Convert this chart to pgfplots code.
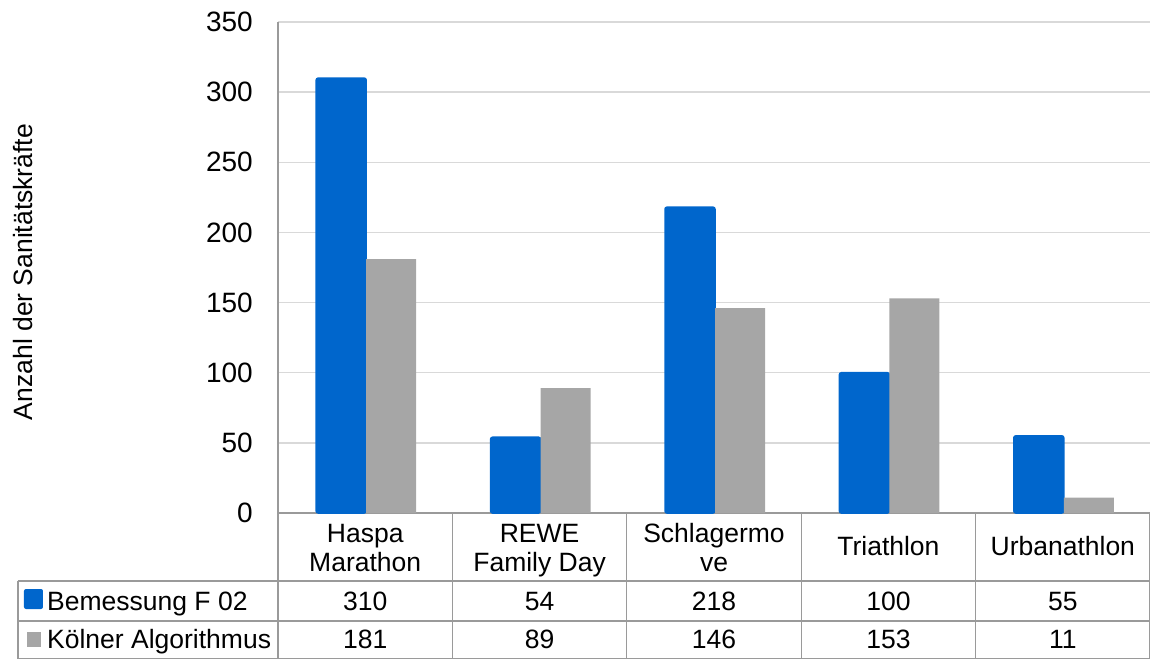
\documentclass[border=0pt]{standalone}
\usepackage{fontspec}
\setmainfont{Liberation Sans}
\usepackage{pgfplots}
\usepackage{pgfplotstable}
\pgfplotsset{compat=1.18}

\definecolor{bemblue}{HTML}{0066CC}
\definecolor{kolgray}{HTML}{A6A6A6}
\definecolor{gridgray}{HTML}{D9D9D9}
\definecolor{linegray}{HTML}{9A9A9A}

% Einsatzkräfte je Veranstaltung
\pgfplotstableread{
idx bem kol
0   310 181
1   54  89
2   218 146
3   100 153
4   55  11
}\data

\begin{document}
\begin{tikzpicture}[font=\fontsize{26.5}{31}\selectfont]
\useasboundingbox (-278pt,-146pt) rectangle (872pt,513pt);
\begin{axis}[
  at={(0,0)}, anchor=south west,
  scale only axis, width=872pt, height=491pt,
  xmin=-0.5, xmax=4.5, ymin=0, ymax=350,
  ytick={0,50,...,350},
  xtick=\empty,
  ybar=0pt, bar width=50pt,
  axis x line=bottom, axis y line=left,
  axis line style={draw=linegray, line width=1.3pt, -},
  ymajorgrids, grid style={draw=gridgray, line width=1.3pt},
  major tick length=0pt,
  /pgf/number format/assume math mode=true,
  yticklabel style={font=\fontsize{28}{31}\selectfont, anchor=east, inner sep=0pt, xshift=-25pt},
  clip=false,
]
\addplot[draw=bemblue, line width=1.5pt, fill=bemblue, rounded corners=2pt,
  bar shift=-24pt] table[x=idx, y=bem] {\data};
\addplot[draw=none, fill=kolgray, bar shift=26pt] table[x=idx, y=kol] {\data};
\end{axis}

% Achsenbeschriftung
\node[rotate=90, anchor=base, font=\fontsize{26.5}{31}\selectfont] at (-245pt,241pt) {Anzahl der Sanitätskräfte};

% Datentabelle unter dem Diagramm
\begin{scope}[draw=linegray, line width=1.3pt]
  \foreach \k in {0,...,5} {
    \draw (\k*174.4pt,0pt) -- (\k*174.4pt,-146pt);
  }
  \draw (-260pt,-68pt) -- (872pt,-68pt);
  \draw (-260pt,-108pt) -- (872pt,-108pt);
  \draw (-260pt,-145.4pt) -- (872pt,-145.4pt);
  \draw (-260pt,-68pt) -- (-260pt,-146pt);
\end{scope}

% Kategorien
\node[anchor=base] at (87.2pt,-29pt) {Haspa};
\node[anchor=base] at (87.2pt,-58pt) {Marathon};
\node[anchor=base] at (261.6pt,-29pt) {REWE};
\node[anchor=base] at (261.6pt,-58pt) {Family Day};
\node[anchor=base] at (436pt,-29pt) {Schlagermo};
\node[anchor=base] at (436pt,-58pt) {ve};
\node[anchor=base] at (610.4pt,-42pt) {Triathlon};
\node[anchor=base] at (784.8pt,-42pt) {Urbanathlon};

% Legende
\fill[bemblue, rounded corners=2pt] (-254pt,-76pt) rectangle (-235pt,-96pt);
\fill[kolgray] (-251pt,-119pt) rectangle (-237pt,-134pt);
\node[anchor=base west, inner sep=0pt] at (-231pt,-97pt) {Bemessung F 02};
\node[anchor=base west, inner sep=0pt] at (-231pt,-135pt) {Kölner Algorithmus};

% Werte
\foreach \i in {0,...,4} {
  \pgfplotstablegetelem{\i}{bem}\of\data
  \node[anchor=base] at ({(\i+0.5)*174.4pt},-97pt) {\pgfplotsretval};
  \pgfplotstablegetelem{\i}{kol}\of\data
  \node[anchor=base] at ({(\i+0.5)*174.4pt},-135pt) {\pgfplotsretval};
}
\end{tikzpicture}
\end{document}
